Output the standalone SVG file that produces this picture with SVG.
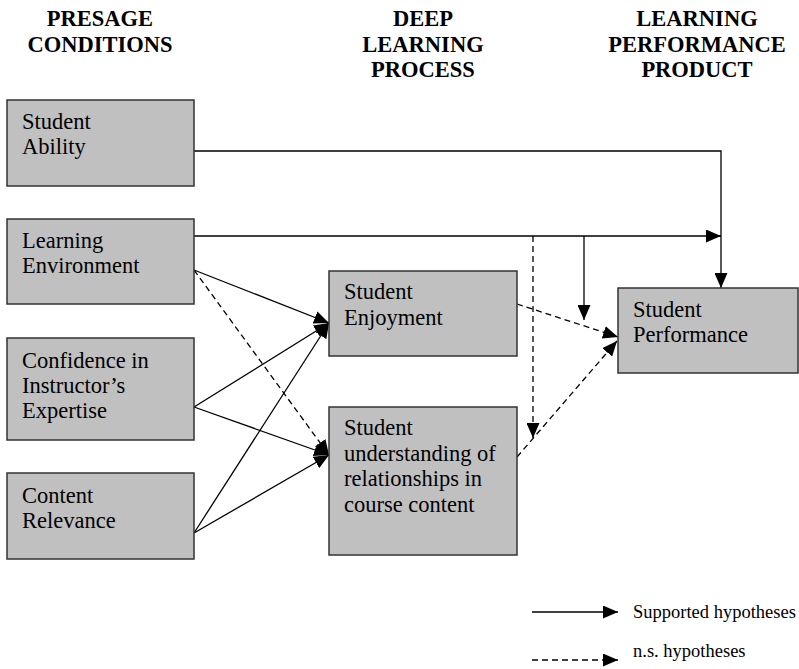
<svg xmlns="http://www.w3.org/2000/svg" width="799" height="669" viewBox="0 0 799 669">
<defs>
<marker id="ah" markerUnits="userSpaceOnUse" markerWidth="15" markerHeight="13" refX="15" refY="6.5" orient="auto">
<path d="M0,0 L15,6.5 L0,13 z" fill="#000"/>
</marker>
<style>
.box{fill:#c0c0c0;stroke:#333;stroke-width:1.5}
.t{font-family:"Liberation Serif","Times New Roman",serif;font-size:22.5px;fill:#000}
.h{font-family:"Liberation Serif","Times New Roman",serif;font-size:22.5px;font-weight:bold;fill:#000;text-anchor:middle}
.lg{font-family:"Liberation Serif","Times New Roman",serif;font-size:18.5px;fill:#000}
.s{fill:none;stroke:#000;stroke-width:1.3}
.d{fill:none;stroke:#000;stroke-width:1.3;stroke-dasharray:6,4}
</style>
</defs>
<rect width="799" height="669" fill="#fff"/>
<g id="headers">
<text class="h" x="100" y="26">PRESAGE</text>
<text class="h" x="100" y="52">CONDITIONS</text>
<text class="h" x="423" y="26">DEEP</text>
<text class="h" x="423" y="52">LEARNING</text>
<text class="h" x="423" y="77">PROCESS</text>
<text class="h" x="697" y="26">LEARNING</text>
<text class="h" x="697" y="52">PERFORMANCE</text>
<text class="h" x="697" y="77">PRODUCT</text>
</g>
<g id="connectors">
<path class="s" d="M194,151 H721 V288" marker-end="url(#ah)"/>
<path class="s" d="M194,236 H721" marker-end="url(#ah)"/>
<path class="s" d="M584,236 V320" marker-end="url(#ah)"/>
<path class="s" d="M194,270 L329,323" marker-end="url(#ah)"/>
<path class="s" d="M194,407 L329,323" marker-end="url(#ah)"/>
<path class="s" d="M194,407 L329,455" marker-end="url(#ah)"/>
<path class="s" d="M194,533 L329,323" marker-end="url(#ah)"/>
<path class="s" d="M194,533 L329,455" marker-end="url(#ah)"/>
<path class="d" d="M194,270 L329,455" marker-end="url(#ah)"/>
<path class="d" d="M533,236 V438" marker-end="url(#ah)"/>
<path class="d" d="M517,304 L618,337" marker-end="url(#ah)"/>
<path class="d" d="M517,457 L617,341" marker-end="url(#ah)"/>
</g>
<g id="student-ability">
<rect class="box" x="7" y="100" width="187" height="86"/>
<text class="t" x="22" y="129">Student</text>
<text class="t" x="22" y="154">Ability</text>
</g>
<g id="learning-environment">
<rect class="box" x="7" y="219" width="187" height="85"/>
<text class="t" x="22" y="248">Learning</text>
<text class="t" x="22" y="273">Environment</text>
</g>
<g id="confidence">
<rect class="box" x="7" y="338" width="187" height="102"/>
<text class="t" x="22" y="368">Confidence in</text>
<text class="t" x="22" y="393">Instructor’s</text>
<text class="t" x="22" y="418">Expertise</text>
</g>
<g id="content-relevance">
<rect class="box" x="7" y="473" width="187" height="86"/>
<text class="t" x="22" y="503">Content</text>
<text class="t" x="22" y="528">Relevance</text>
</g>
<g id="student-enjoyment">
<rect class="box" x="329" y="271" width="188" height="85"/>
<text class="t" x="344" y="299">Student</text>
<text class="t" x="344" y="325">Enjoyment</text>
</g>
<g id="student-understanding">
<rect class="box" x="329" y="407" width="188" height="148"/>
<text class="t" x="344" y="435">Student</text>
<text class="t" x="344" y="461">understanding of</text>
<text class="t" x="344" y="486">relationships in</text>
<text class="t" x="344" y="512">course content</text>
</g>
<g id="student-performance">
<rect class="box" x="618" y="288" width="180" height="85"/>
<text class="t" x="633" y="317">Student</text>
<text class="t" x="633" y="342">Performance</text>
</g>
<g id="legend">
<path class="s" d="M532,612 H618" marker-end="url(#ah)"/>
<text class="lg" x="633" y="618">Supported hypotheses</text>
<path class="d" d="M532,660 H618" marker-end="url(#ah)"/>
<text class="lg" x="633" y="657">n.s. hypotheses</text>
</g>
</svg>
